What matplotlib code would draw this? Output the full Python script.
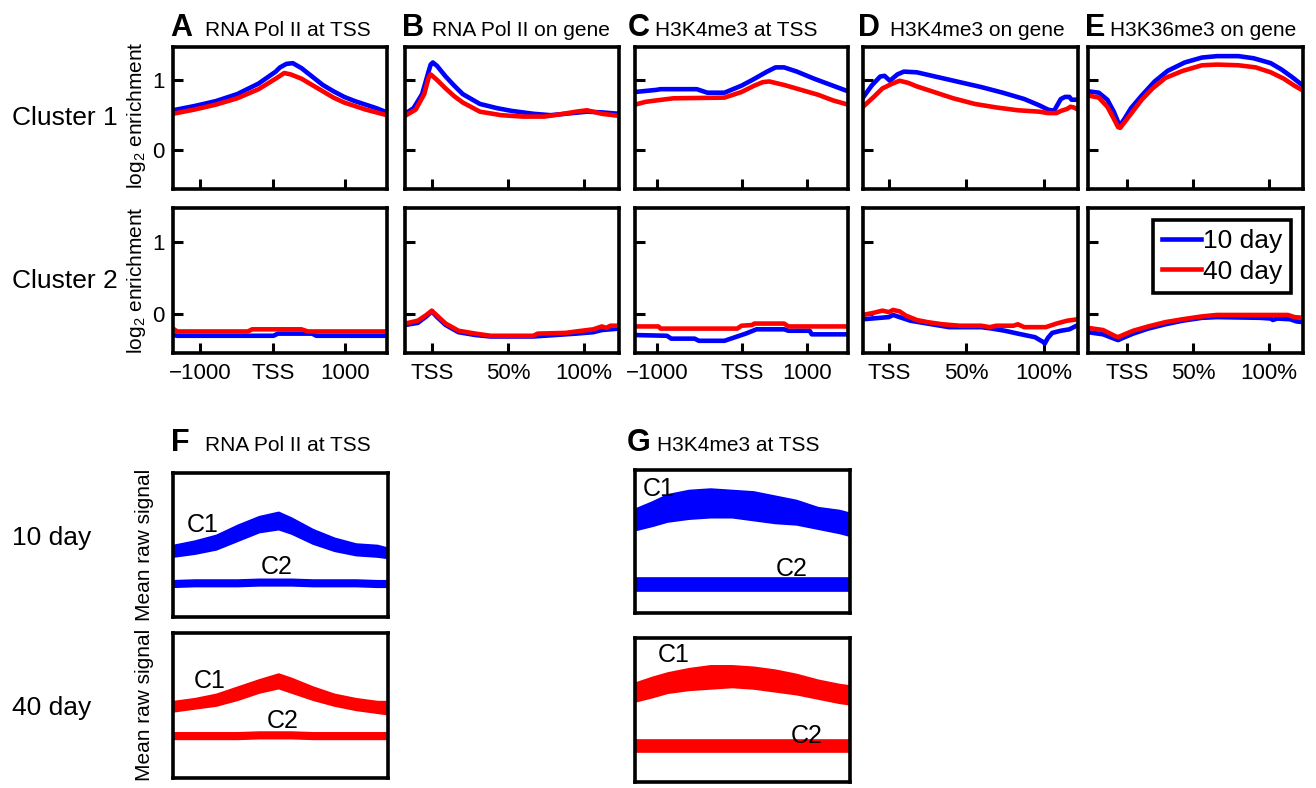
import matplotlib.pyplot as plt

plt.rcParams['font.family'] = ['Liberation Sans', 'DejaVu Sans']

# ---- top panels: position along the axis (0-100) and log2 enrichment ----
panel_letters = ['A', 'B', 'C', 'D', 'E']
panel_titles = ['RNA Pol II at TSS', 'RNA Pol II on gene', 'H3K4me3 at TSS',
                'H3K4me3 on gene', 'H3K36me3 on gene']
tss_labels = ['\u22121000', 'TSS', '1000']
gene_labels = ['TSS', '50%', '100%']
tick_pos = [[12.6, 46.7, 80.4], [12.6, 48.1, 83.6], [10.5, 50.2, 80.8],
            [12, 48, 84], [18, 49, 84]]
tick_labels = [tss_labels, gene_labels, tss_labels, gene_labels, gene_labels]

# cluster 1
a1_blue_x = [0, 10, 20, 30, 40, 48, 50, 53, 56, 60, 65, 70, 75, 80, 85, 90, 95, 100]
a1_blue_y = [0.57, 0.63, 0.70, 0.80, 0.95, 1.12, 1.18, 1.23, 1.24, 1.17, 1.05, 0.93, 0.84, 0.76, 0.70, 0.65, 0.60, 0.54]
a1_red_x = [0, 10, 20, 30, 40, 48, 52, 55, 60, 65, 70, 75, 80, 85, 90, 95, 100]
a1_red_y = [0.52, 0.58, 0.65, 0.74, 0.87, 1.02, 1.10, 1.08, 1.02, 0.93, 0.84, 0.75, 0.68, 0.63, 0.58, 0.54, 0.50]

b1_blue_x = [0, 4, 8, 11, 12, 13, 15, 19, 23, 27, 35, 43, 50, 60, 68, 75, 85, 92, 100]
b1_blue_y = [0.52, 0.60, 0.80, 1.12, 1.22, 1.25, 1.20, 1.05, 0.92, 0.80, 0.66, 0.60, 0.56, 0.52, 0.50, 0.52, 0.55, 0.54, 0.52]
b1_red_x = [0, 5, 9, 11, 12, 15, 19, 23, 27, 35, 45, 55, 65, 72, 80, 85, 92, 100]
b1_red_y = [0.49, 0.58, 0.80, 1.03, 1.08, 1.00, 0.88, 0.77, 0.68, 0.55, 0.50, 0.48, 0.48, 0.51, 0.55, 0.57, 0.52, 0.49]

c1_blue_x = [0, 10, 12, 29, 34, 42, 50, 55, 62, 66, 70, 76, 84, 92, 100]
c1_blue_y = [0.83, 0.86, 0.87, 0.87, 0.82, 0.82, 0.92, 1.00, 1.12, 1.18, 1.18, 1.12, 1.02, 0.93, 0.84]
c1_red_x = [0, 5, 10, 18, 42, 50, 56, 60, 63, 70, 78, 86, 93, 100]
c1_red_y = [0.65, 0.69, 0.71, 0.74, 0.75, 0.83, 0.92, 0.97, 0.98, 0.93, 0.86, 0.79, 0.71, 0.65]

d1_blue_x = [0, 4, 8, 10, 12.5, 16, 19, 25, 35, 45, 55, 65, 75, 82, 86, 87.5, 89, 90.5, 92, 94, 96, 97, 100]
d1_blue_y = [0.75, 0.92, 1.05, 1.06, 0.99, 1.08, 1.12, 1.11, 1.04, 0.97, 0.90, 0.82, 0.73, 0.64, 0.58, 0.57, 0.57, 0.65, 0.73, 0.76, 0.76, 0.72, 0.72]
d1_red_x = [0, 5, 9, 13, 17, 21, 25, 33, 42, 52, 62, 72, 82, 86, 90, 92, 95, 96.5, 98, 100]
d1_red_y = [0.62, 0.76, 0.88, 0.94, 0.99, 0.96, 0.91, 0.83, 0.74, 0.66, 0.61, 0.57, 0.55, 0.53, 0.53, 0.56, 0.59, 0.62, 0.61, 0.58]

e1_blue_x = [0, 5, 9, 12, 14, 15, 17, 20, 25, 31, 37, 45, 53, 60, 70, 77, 85, 90, 95, 100]
e1_blue_y = [0.84, 0.82, 0.72, 0.55, 0.40, 0.36, 0.45, 0.60, 0.78, 0.98, 1.13, 1.25, 1.32, 1.34, 1.34, 1.31, 1.24, 1.15, 1.04, 0.92]
e1_red_x = [0, 5, 9, 12, 14, 15, 17, 20, 25, 30, 36, 44, 53, 60, 70, 78, 85, 91, 96, 100]
e1_red_y = [0.78, 0.75, 0.62, 0.45, 0.33, 0.32, 0.40, 0.52, 0.72, 0.88, 1.03, 1.13, 1.21, 1.22, 1.21, 1.18, 1.11, 1.02, 0.92, 0.85]

# cluster 2
a2_blue_x = [0, 2, 35, 47, 49, 65, 67, 100]
a2_blue_y = [-0.30, -0.31, -0.31, -0.31, -0.28, -0.28, -0.31, -0.31]
a2_red_x = [0, 2, 35, 37, 60, 63, 100]
a2_red_y = [-0.21, -0.25, -0.25, -0.22, -0.22, -0.25, -0.25]

b2_blue_x = [0, 6, 10, 12.5, 15, 19, 25, 33, 40, 60, 70, 80, 88, 92, 100]
b2_blue_y = [-0.16, -0.13, -0.04, 0.03, -0.05, -0.16, -0.26, -0.30, -0.32, -0.32, -0.30, -0.28, -0.26, -0.23, -0.21]
b2_red_x = [0, 6, 10, 12.5, 15, 19, 25, 33, 40, 60, 62, 75, 80, 88, 92, 94, 96, 100]
b2_red_y = [-0.14, -0.10, -0.02, 0.04, -0.03, -0.14, -0.24, -0.28, -0.31, -0.31, -0.28, -0.27, -0.25, -0.22, -0.18, -0.20, -0.17, -0.17]

c2_blue_x = [0, 15, 17, 28, 30, 42, 47, 52, 57, 70, 72, 82, 83, 100]
c2_blue_y = [-0.30, -0.31, -0.35, -0.35, -0.38, -0.38, -0.33, -0.28, -0.22, -0.22, -0.24, -0.24, -0.29, -0.29]
c2_red_x = [0, 11, 12, 48, 50, 55, 56, 70, 72, 100]
c2_red_y = [-0.18, -0.18, -0.21, -0.21, -0.17, -0.16, -0.14, -0.14, -0.18, -0.18]

d2_blue_x = [0, 8, 12, 14, 17, 22, 30, 40, 55, 60, 66, 72, 80, 84, 84.5, 86, 88, 92, 96, 100]
d2_blue_y = [-0.08, -0.06, -0.05, -0.02, -0.05, -0.10, -0.14, -0.19, -0.19, -0.21, -0.24, -0.28, -0.33, -0.40, -0.42, -0.34, -0.27, -0.24, -0.22, -0.16]
d2_red_x = [0, 5, 9, 12, 14, 17, 20, 25, 30, 37, 45, 55, 59, 62, 70, 72, 75, 85, 90, 95, 100]
d2_red_y = [-0.02, 0.01, 0.04, 0.02, 0.05, 0.03, -0.03, -0.09, -0.12, -0.15, -0.17, -0.17, -0.19, -0.17, -0.17, -0.15, -0.19, -0.19, -0.14, -0.10, -0.08]

e2_blue_x = [0, 7, 13, 14, 17, 21, 28, 36, 44, 53, 60, 80, 85, 86, 88, 94, 97, 100]
e2_blue_y = [-0.26, -0.29, -0.36, -0.37, -0.33, -0.28, -0.21, -0.15, -0.10, -0.06, -0.05, -0.06, -0.07, -0.09, -0.07, -0.08, -0.11, -0.12]
e2_red_x = [0, 7, 13, 14, 17, 21, 28, 36, 44, 53, 60, 80, 93, 96, 100]
e2_red_y = [-0.20, -0.23, -0.32, -0.33, -0.29, -0.24, -0.18, -0.12, -0.08, -0.04, -0.02, -0.02, -0.02, -0.05, -0.06]

row1 = [(a1_blue_x, a1_blue_y, a1_red_x, a1_red_y), (b1_blue_x, b1_blue_y, b1_red_x, b1_red_y),
        (c1_blue_x, c1_blue_y, c1_red_x, c1_red_y), (d1_blue_x, d1_blue_y, d1_red_x, d1_red_y),
        (e1_blue_x, e1_blue_y, e1_red_x, e1_red_y)]
row2 = [(a2_blue_x, a2_blue_y, a2_red_x, a2_red_y), (b2_blue_x, b2_blue_y, b2_red_x, b2_red_y),
        (c2_blue_x, c2_blue_y, c2_red_x, c2_red_y), (d2_blue_x, d2_blue_y, d2_red_x, d2_red_y),
        (e2_blue_x, e2_blue_y, e2_red_x, e2_red_y)]

# ---- raw signal panels: band envelopes (fraction of axis height) ----
band_x = [0, 10, 20, 30, 40, 49, 55, 65, 75, 85, 95, 100]
f10_c1_hi = [0.50, 0.53, 0.57, 0.64, 0.70, 0.73, 0.69, 0.61, 0.55, 0.51, 0.50, 0.48]
f10_c1_lo = [0.42, 0.44, 0.47, 0.53, 0.59, 0.61, 0.58, 0.51, 0.46, 0.43, 0.42, 0.41]
f10_c2_hi = [0.255, 0.26, 0.26, 0.26, 0.265, 0.265, 0.265, 0.26, 0.26, 0.26, 0.255, 0.255]
f10_c2_lo = [0.21, 0.215, 0.215, 0.215, 0.22, 0.22, 0.22, 0.215, 0.215, 0.215, 0.21, 0.21]
f40_c1_hi = [0.53, 0.55, 0.58, 0.63, 0.68, 0.72, 0.69, 0.63, 0.58, 0.55, 0.53, 0.53]
f40_c1_lo = [0.46, 0.48, 0.50, 0.54, 0.59, 0.62, 0.59, 0.54, 0.50, 0.47, 0.45, 0.44]
f40_c2_hi = [0.315, 0.315, 0.315, 0.315, 0.32, 0.32, 0.32, 0.315, 0.315, 0.315, 0.315, 0.315]
f40_c2_lo = [0.27, 0.27, 0.27, 0.27, 0.275, 0.275, 0.275, 0.27, 0.27, 0.27, 0.27, 0.27]

band_x_g = [0, 8, 15, 25, 35, 45, 55, 65, 75, 85, 95, 100]
g10_c1_hi = [0.73, 0.78, 0.83, 0.86, 0.87, 0.86, 0.85, 0.82, 0.79, 0.74, 0.72, 0.70]
g10_c1_lo = [0.58, 0.61, 0.64, 0.66, 0.67, 0.67, 0.65, 0.63, 0.62, 0.59, 0.56, 0.54]
g10_c2_hi = [0.245] * 12
g10_c2_lo = [0.155] * 12
g40_c1_hi = [0.69, 0.73, 0.76, 0.79, 0.81, 0.81, 0.80, 0.78, 0.75, 0.71, 0.68, 0.67]
g40_c1_lo = [0.56, 0.59, 0.62, 0.64, 0.65, 0.66, 0.65, 0.63, 0.61, 0.58, 0.55, 0.54]
g40_c2_hi = [0.29] * 12
g40_c2_lo = [0.21] * 12

W, H = 1316, 788
fig = plt.figure(figsize=(W / 100, H / 100), dpi=100)


def px_axes(l, t, r, b):
    return fig.add_axes([l / W, 1 - b / H, (r - l) / W, (b - t) / H])


def frame(ax, lw=2.6):
    for s in ax.spines.values():
        s.set_linewidth(lw)
        s.set_color('black')


cols = [(173, 387), (405, 619), (635, 848), (863, 1078), (1088, 1303)]
rows = [(47, 189), (208, 353)]
letter_x = [-0.015, -0.015, -0.035, -0.025, -0.015]
title_x = [0.15, 0.125, 0.095, 0.125, 0.10]
blue, red = '#0000ff', '#ff0000'

for r, (top, bot) in enumerate(rows):
    data = row1 if r == 0 else row2
    for c, (left, right) in enumerate(cols):
        ax = px_axes(left, top, right, bot)
        bx, by, rx, ry = data[c]
        ax.plot(bx, by, color=blue, lw=3.3, label='10 day', solid_joinstyle='round')
        ax.plot(rx, ry, color=red, lw=3.3, label='40 day', solid_joinstyle='round')
        ax.set_xlim(0, 100)
        ax.set_ylim(-0.55, 1.47)
        ax.set_yticks([0, 1])
        ax.set_xticks(tick_pos[c])
        ax.tick_params(direction='in', length=7, width=2.2, labelsize=16, pad=6)
        ax.tick_params(axis='x', pad=7)
        if c == 0:
            ax.set_yticklabels(['0', '1'])
        else:
            ax.set_yticklabels([])
        if r == 1:
            ax.set_xticklabels(tick_labels[c])
        else:
            ax.set_xticklabels([])
        frame(ax)
        if r == 0:
            ax.text(letter_x[c], 1.08, panel_letters[c], transform=ax.transAxes,
                    fontsize=22, fontweight='bold', va='baseline')
            ax.text(title_x[c], 1.08, panel_titles[c], transform=ax.transAxes,
                    fontsize=15, va='baseline')
        if r == 1 and c == 4:
            leg = ax.legend(loc='upper right', fontsize=19, fancybox=False,
                            framealpha=1, handlelength=1.5, handletextpad=0.05,
                            borderpad=0.35, labelspacing=0.25, borderaxespad=0.45)
            leg.get_frame().set_edgecolor('black')
            leg.get_frame().set_linewidth(2.6)

fig.text(12 / W, 1 - 118 / H, 'Cluster 1', fontsize=19, va='center')
fig.text(12 / W, 1 - 281 / H, 'Cluster 2', fontsize=19, va='center')
for yc in [115, 280]:
    fig.text(137 / W, 1 - yc / H, r'$\mathregular{log_2}$ enrichment', fontsize=15,
             rotation=90, va='center', ha='center')

# ---- F and G ----
raw_panels = [
    ((173, 473, 388, 617), band_x, f10_c1_hi, f10_c1_lo, f10_c2_hi, f10_c2_lo, blue,
     (0.14, 0.64), (0.48, 0.35)),
    ((173, 633, 388, 778), band_x, f40_c1_hi, f40_c1_lo, f40_c2_hi, f40_c2_lo, red,
     (0.17, 0.67), (0.51, 0.39)),
    ((635, 470, 850, 613), band_x_g, g10_c1_hi, g10_c1_lo, g10_c2_hi, g10_c2_lo, blue,
     (0.11, 0.87), (0.73, 0.31)),
    ((635, 638, 850, 782), band_x_g, g40_c1_hi, g40_c1_lo, g40_c2_hi, g40_c2_lo, red,
     (0.18, 0.88), (0.80, 0.32)),
]
for rect, xs, hi1, lo1, hi2, lo2, col, c1pos, c2pos in raw_panels:
    ax = px_axes(*rect)
    ax.fill_between(xs, lo1, hi1, color=col, lw=1.2, edgecolor=col)
    ax.fill_between(xs, lo2, hi2, color=col, lw=1.2, edgecolor=col)
    ax.set_xlim(0, 100)
    ax.set_ylim(0, 1)
    ax.set_xticks([])
    ax.set_yticks([])
    frame(ax)
    ax.text(c1pos[0], c1pos[1], 'C1', transform=ax.transAxes, fontsize=18,
            ha='center', va='center')
    ax.text(c2pos[0], c2pos[1], 'C2', transform=ax.transAxes, fontsize=18,
            ha='center', va='center')

fig.text(171 / W, 1 - 451 / H, 'F', fontsize=22, fontweight='bold', va='baseline')
fig.text(205 / W, 1 - 451 / H, 'RNA Pol II at TSS', fontsize=15, va='baseline')
fig.text(627 / W, 1 - 451 / H, 'G', fontsize=22, fontweight='bold', va='baseline')
fig.text(657 / W, 1 - 451 / H, 'H3K4me3 at TSS', fontsize=15, va='baseline')

fig.text(12 / W, 1 - 538 / H, '10 day', fontsize=19, va='center')
fig.text(12 / W, 1 - 708 / H, '40 day', fontsize=19, va='center')
for yc in [545, 705]:
    fig.text(145 / W, 1 - yc / H, 'Mean raw signal', fontsize=15,
             rotation=90, va='center', ha='center')

fig.savefig('out.png', dpi=100)
